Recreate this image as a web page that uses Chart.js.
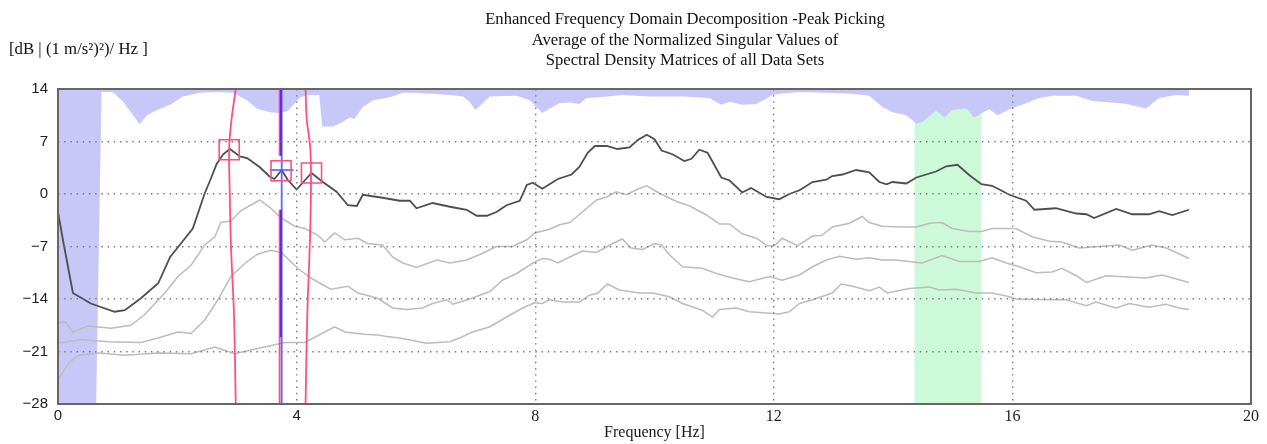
<!DOCTYPE html>
<html><head><meta charset="utf-8">
<script src="https://cdn.jsdelivr.net/npm/chart.js@4.4.1/dist/chart.umd.min.js"></script>
<style>html,body{margin:0;padding:0;background:#fff}#wrap{width:1267px;height:444px;position:relative}</style>
</head><body><div id="wrap"><canvas id="c"></canvas></div>
<script>
const titleLines = ['Enhanced Frequency Domain Decomposition -Peak Picking','Average of the Normalized Singular Values of','Spectral Density Matrices of all Data Sets'];
const yAxisLabel = '[dB | (1 m/s\u00B2)\u00B2)/ Hz ]';
const xAxisLabel = 'Frequency [Hz]';
const xTicks = [0,4,8,12,16,20];
const yTicks = [14,7,0,-7,-14,-21,-28];

const mainFreq = [0,0.08,0.25,0.55,0.95,1.12,1.39,1.68,1.88,2.06,2.26,2.46,2.56,2.66,2.77,2.88,3.05,3.17,3.38,3.55,3.63,3.75,3.85,4.00,4.25,4.44,4.67,4.86,5.01,5.11,5.44,5.73,5.90,6.01,6.28,6.57,6.85,7.02,7.19,7.35,7.52,7.74,7.86,7.96,8.12,8.38,8.61,8.74,8.88,9.00,9.20,9.38,9.58,9.72,9.87,10.00,10.12,10.30,10.50,10.62,10.75,10.89,11.12,11.26,11.47,11.62,11.88,12.09,12.26,12.43,12.65,12.88,12.98,13.15,13.38,13.60,13.77,13.89,13.99,14.22,14.39,14.72,14.89,15.08,15.28,15.48,15.66,15.95,16.23,16.37,16.73,17.07,17.24,17.37,17.74,18.01,18.29,18.46,18.68,18.96];
const mainVal = [-2.4,-6.0,-13.2,-14.6,-15.7,-15.5,-13.9,-11.9,-8.4,-6.6,-4.6,0.1,2.0,4.0,5.3,6.0,5.0,4.8,3.6,2.3,2.0,3.2,1.9,0.6,2.8,1.6,0.3,-1.5,-1.6,-0.1,-0.5,-0.9,-0.9,-1.9,-1.2,-1.7,-2.1,-2.9,-2.9,-2.4,-1.5,-0.9,1.2,1.5,0.7,2.0,2.6,3.6,5.5,6.4,6.4,6.0,6.2,7.2,7.9,7.3,5.8,5.3,4.4,4.7,5.9,5.5,2.2,1.8,0.2,0.8,-0.4,-0.7,0.0,0.5,1.6,1.9,2.4,2.6,3.2,2.9,1.6,1.3,1.6,1.4,2.2,3.0,3.7,3.9,2.5,1.3,1.1,-0.1,-0.9,-2.1,-1.9,-2.6,-2.7,-3.2,-2.0,-2.7,-2.7,-2.3,-2.8,-2.1];

const g1Freq = [0,0.12,0.25,0.50,0.89,1.22,1.45,1.79,2.01,2.23,2.46,2.63,2.73,2.90,3.07,3.38,3.57,3.74,3.97,4.14,4.36,4.47,4.64,4.81,5.03,5.19,5.44,5.61,5.78,6.01,6.35,6.57,6.85,7.12,7.35,7.62,7.86,7.99,8.24,8.41,8.58,8.79,9.03,9.20,9.36,9.53,9.70,9.87,10.08,10.37,10.59,10.87,11.09,11.26,11.47,11.71,11.89,12.01,12.14,12.40,12.65,12.81,12.98,13.27,13.48,13.60,13.82,14.15,14.39,14.61,14.82,14.99,15.28,15.48,15.66,16.06,16.33,16.62,16.83,17.12,17.45,17.79,18.01,18.34,18.58,18.96];
const g1Val = [-17.2,-17.0,-18.4,-17.6,-17.9,-17.5,-16.1,-13.2,-11.0,-9.5,-6.8,-5.7,-3.8,-3.6,-2.2,-0.8,-1.9,-3.2,-4.3,-4.6,-5.5,-6.4,-5.2,-6.1,-5.9,-6.6,-6.8,-8.4,-9.2,-9.8,-8.8,-9.2,-8.8,-7.9,-7.0,-7.0,-6.1,-5.2,-4.7,-4.1,-3.8,-2.4,-0.8,-0.4,0.3,-0.1,0.6,1.1,0.1,-1.0,-1.6,-2.8,-4.0,-4.0,-5.3,-5.9,-6.9,-6.9,-5.9,-6.9,-5.6,-5.5,-4.4,-3.9,-3.0,-3.8,-4.3,-4.4,-4.4,-3.9,-3.8,-4.6,-5.0,-5.0,-4.6,-4.6,-5.7,-6.3,-6.4,-7.2,-7.0,-6.8,-7.5,-6.8,-7.2,-8.6];

const g2Freq = [0,0.39,0.84,1.39,1.68,2.01,2.23,2.46,2.68,2.90,3.14,3.35,3.57,3.74,4.02,4.24,4.57,4.86,5.03,5.36,5.61,5.85,6.11,6.28,6.52,6.62,6.90,7.24,7.45,7.69,7.96,8.12,8.24,8.38,8.58,8.79,9.03,9.30,9.46,9.61,9.80,10.00,10.12,10.25,10.47,10.80,11.04,11.31,11.59,11.93,12.14,12.43,12.65,12.88,13.10,13.38,13.60,13.82,14.05,14.27,14.49,14.82,15.11,15.44,15.66,15.90,16.11,16.40,16.67,16.83,17.07,17.24,17.57,18.01,18.24,18.51,18.96];
const g2Val = [-19.9,-19.4,-19.7,-19.8,-19.2,-18.4,-18.6,-16.8,-14.1,-11.0,-9.2,-8.0,-7.5,-7.8,-9.9,-11.2,-12.7,-12.3,-13.2,-13.9,-15.2,-15.4,-15.2,-14.6,-14.1,-14.7,-14.0,-13.0,-11.5,-10.6,-9.2,-8.6,-8.7,-9.2,-8.4,-7.6,-7.8,-6.6,-6.0,-7.2,-7.4,-6.6,-6.8,-8.1,-9.7,-9.9,-10.6,-11.2,-11.7,-11.0,-11.5,-10.8,-9.7,-8.8,-8.3,-8.7,-8.5,-8.8,-8.8,-9.0,-9.2,-8.2,-9.0,-9.0,-8.5,-9.2,-9.7,-10.5,-10.4,-9.9,-10.9,-11.8,-10.9,-11.1,-11.2,-10.8,-11.8];

const g3Freq = [0,0.17,0.34,0.67,1.12,1.68,2.23,2.63,2.96,3.35,3.80,4.14,4.47,4.64,4.81,5.14,5.36,5.51,5.73,6.18,6.57,6.73,6.95,7.24,7.52,7.79,7.99,8.12,8.24,8.46,8.74,8.91,9.05,9.21,9.41,9.75,9.97,10.25,10.47,10.80,10.97,11.09,11.37,11.59,11.93,12.09,12.26,12.43,12.65,12.98,13.13,13.32,13.60,13.77,13.90,14.27,14.61,14.77,15.06,15.39,15.66,15.90,16.06,16.57,16.90,17.24,17.40,17.74,17.96,18.29,18.58,18.79,18.96];
const g3Val = [-24.8,-22.6,-21.5,-21.2,-21.5,-21.2,-21.3,-20.4,-21.3,-20.6,-19.8,-19.8,-18.4,-17.7,-18.4,-18.7,-18.8,-19.0,-19.2,-19.9,-19.7,-19.2,-18.4,-17.7,-16.4,-15.2,-14.5,-14.6,-14.1,-14.4,-14.4,-13.5,-13.2,-12.0,-12.8,-13.2,-13.2,-13.7,-14.6,-15.5,-16.4,-15.4,-15.2,-15.7,-15.9,-16.0,-15.7,-14.6,-14.1,-13.2,-12.0,-12.3,-12.9,-12.4,-13.2,-12.6,-12.4,-12.8,-12.7,-13.2,-13.2,-13.6,-14.0,-14.1,-14.1,-14.9,-14.4,-15.2,-14.6,-15.1,-14.7,-15.2,-15.4];

const coherFreq = [0,0.64,0.73,0.92,1.09,1.26,1.37,1.49,1.66,1.88,2.09,2.38,2.66,2.93,3.17,3.33,3.55,3.69,3.84,3.97,4.05,4.17,4.38,4.43,4.61,4.77,4.89,4.97,5.11,5.28,5.56,5.78,6.01,6.57,6.79,6.90,7.00,7.12,7.24,7.69,7.91,8.12,8.24,8.41,8.58,8.74,8.86,9.08,9.46,9.92,10.47,10.92,11.12,11.26,11.47,11.71,11.98,12.14,12.43,13.27,13.60,13.82,13.99,14.22,14.39,14.49,14.72,14.86,14.99,15.23,15.36,15.49,15.61,15.75,15.95,16.23,16.45,16.67,17.07,17.34,17.67,17.91,18.24,18.46,18.74,18.96];
const coherVal = [-28,-28,13.6,13.6,12.3,10.5,9.3,10.5,11.2,11.9,13.0,13.5,13.6,13.5,12.5,11.4,10.9,10.8,11.0,12.1,12.8,13.2,13.2,9.0,9.0,9.6,10.2,10.0,11.6,12.5,12.9,13.5,13.5,13.2,13.0,12.3,11.2,12.1,13.0,13.1,12.5,10.8,11.4,12.1,12.2,12.0,12.8,12.9,13.2,13.0,13.0,12.8,11.9,12.3,11.9,12.0,13.2,13.4,13.6,13.4,13.1,11.6,10.9,10.5,9.4,9.6,11.1,10.2,11.2,11.4,10.2,10.8,11.3,10.5,11.3,12.1,12.8,13.1,13.1,12.4,12.2,12.0,11.4,12.8,13.2,13.1];

const bandFreq = [14.36, 15.48];
const peakFreq = [2.87, 3.74, 4.25];
const peakVal = [5.9, 3.1, 2.8];
const cursorFreq = 3.75;
const crossFreq = [3.55, 3.95];
const crossVal = 3.2;
const leftLensFreq = [2.98,2.91,2.87,2.88,2.90,2.95,2.98];
const rightLensFreq = [4.15,4.17,4.23,4.24,4.22,4.18,4.15];
const lensVal = [14,10,6,0,-7,-16,-28];
const violetSegs = [[14,5.1],[-2.1,-19.1]];
const pinkSegs = [[14,5.1],[-2.1,-28]];

const pairs = (xs, ys) => xs.map((x, i) => ({x, y: ys[i]}));
const vseg = (f, ys) => ys.map(y => ({x: f, y}));
const PINK = '#ff4f80';

const datasets = [
  {data: pairs(peakFreq, peakVal), showLine:false, pointStyle:'rect', pointRadius:14.2, borderColor:PINK, borderWidth:1.6, backgroundColor:'rgba(0,0,0,0)', order:1},
  {data: pairs(crossFreq, [crossVal, crossVal]), borderColor:'#4a5cff', borderWidth:1.6, pointRadius:0, order:2},
  ...violetSegs.map(s => ({data: vseg(3.738, s), borderColor:'#7a22d8', borderWidth:2, pointRadius:0, order:3})),
  {data: vseg(cursorFreq, [14,-28]), borderColor:'#5a6aff', borderWidth:1.8, pointRadius:0, order:4},
  ...pinkSegs.map(s => ({data: vseg(3.715, s), borderColor:PINK, borderWidth:1.8, pointRadius:0, order:5})),
  {data: pairs(leftLensFreq, lensVal), borderColor:PINK, borderWidth:1.8, pointRadius:0, tension:0.4, order:6},
  {data: pairs(rightLensFreq, lensVal), borderColor:PINK, borderWidth:1.8, pointRadius:0, tension:0.4, order:6},
  {data: pairs(mainFreq, mainVal), borderColor:'#4e4e4e', borderWidth:1.8, pointRadius:0, order:7},
  {data: pairs(g1Freq, g1Val), borderColor:'#bcbcbc', borderWidth:1.5, pointRadius:0, order:8},
  {data: pairs(g2Freq, g2Val), borderColor:'#bcbcbc', borderWidth:1.5, pointRadius:0, order:8},
  {data: pairs(g3Freq, g3Val), borderColor:'#bcbcbc', borderWidth:1.5, pointRadius:0, order:8},
  {data: pairs(coherFreq, coherVal), borderWidth:0, borderColor:'rgba(0,0,0,0)', backgroundColor:'#c8c8f8', fill:'end', pointRadius:0, order:20}
];

const bandPlugin = {
  id:'band',
  beforeDatasetsDraw(chart){
    const {ctx, chartArea:a, scales:{x}} = chart;
    ctx.save();
    ctx.fillStyle = '#ccf9d7';
    const x0 = x.getPixelForValue(bandFreq[0]), x1 = x.getPixelForValue(bandFreq[1]);
    ctx.fillRect(x0, a.top, x1 - x0, a.bottom - a.top);
    ctx.restore();
  }
};
const framePlugin = {
  id:'frame',
  afterDraw(chart){
    const {ctx, chartArea:a} = chart;
    ctx.save();
    ctx.strokeStyle = '#666'; ctx.lineWidth = 2;
    ctx.strokeRect(a.left, a.top, a.right - a.left, a.bottom - a.top);
    ctx.fillStyle = '#111';
    ctx.textBaseline = 'alphabetic';
    ctx.font = '16.6px "Liberation Serif"';
    ctx.textAlign = 'center';
    titleLines.forEach((t, i) => ctx.fillText(t, 685, 24 + i * 20.5));
    ctx.textAlign = 'left';
    ctx.font = '16.8px "Liberation Serif"';
    ctx.fillText(yAxisLabel, 9, 54);
    ctx.restore();
  }
};

const gridColor = (edgeVals) => (c) => (c.tick && edgeVals.includes(c.tick.value)) ? 'rgba(0,0,0,0)' : '#777';

new Chart(document.getElementById('c'), {
  type:'line',
  data:{datasets},
  plugins:[bandPlugin, framePlugin],
  options:{
    responsive:true, maintainAspectRatio:false, animation:false, devicePixelRatio:1,
    parsing:true,
    layout:{padding:{top:89, right:16, left:0, bottom:0}},
    plugins:{legend:{display:false}, tooltip:{enabled:false}, title:{display:false}},
    scales:{
      x:{type:'linear', min:0, max:20,
        afterBuildTicks:(s)=>{ s.ticks = xTicks.map(v=>({value:v})); },
        afterFit:(s)=>{ s.height = 40; },
        grid:{z:1, color:gridColor([0,20]), lineWidth:1.4, drawTicks:false},
        border:{display:false, dash:[1.4,4.8]},
        ticks:{padding:3, color:'#222', maxRotation:0, autoSkip:false,
          font:(c)=> (c.index < 2 ? {family:'Liberation Sans', size:15} : {family:'Liberation Serif', size:16})},
        title:{display:true, text:xAxisLabel, color:'#1a1a1a', font:{family:'Liberation Serif', size:16}, padding:{top:0, bottom:2}}
      },
      y:{type:'linear', min:-28, max:14,
        afterBuildTicks:(s)=>{ s.ticks = yTicks.map(v=>({value:v})); },
        afterFit:(s)=>{ s.width = 58; },
        grid:{z:1, color:gridColor([14,-28]), lineWidth:1.4, drawTicks:false},
        border:{display:false, dash:[1.4,4.8]},
        ticks:{padding:10, color:'#222', font:{family:'Liberation Sans', size:15},
          callback:(v)=> String(v).replace('-', '\u2212')}
      }
    }
  }
});
</script></body></html>
